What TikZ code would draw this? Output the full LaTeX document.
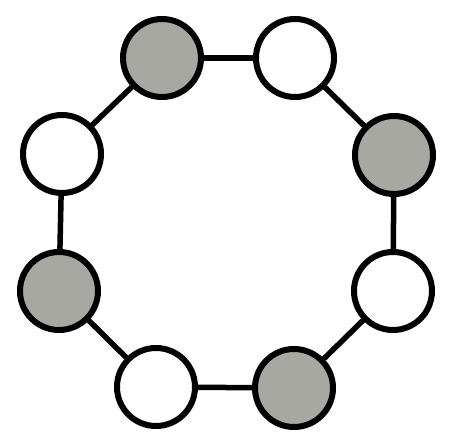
\documentclass[tikz,border=0pt]{standalone}
\begin{document}
\begin{tikzpicture}[x=1pt,y=-1pt,
  bead/.style={circle,draw=black,line width=6pt,minimum size=78pt,inner sep=0pt},
  dark/.style={bead,fill=beadgray},
  light/.style={bead,fill=white},
  link/.style={line width=5.5pt,draw=black}]
\definecolor{beadgray}{RGB}{168,168,162}
\useasboundingbox (0,0) rectangle (467,443);
\node[dark]  (a) at (162,58)  {};
\node[light] (b) at (295,58)  {};
\node[dark]  (c) at (394,155) {};
\node[light] (d) at (393,291) {};
\node[dark]  (e) at (294,388) {};
\node[light] (f) at (156,387) {};
\node[dark]  (g) at (59,291)  {};
\node[light] (h) at (62,154)  {};
\draw[link] (a) -- (b);
\draw[link] (b) -- (c);
\draw[link] (c) -- (d);
\draw[link] (d) -- (e);
\draw[link] (e) -- (f);
\draw[link] (f) -- (g);
\draw[link] (g) -- (h);
\draw[link] (h) -- (a);
\end{tikzpicture}
\end{document}
